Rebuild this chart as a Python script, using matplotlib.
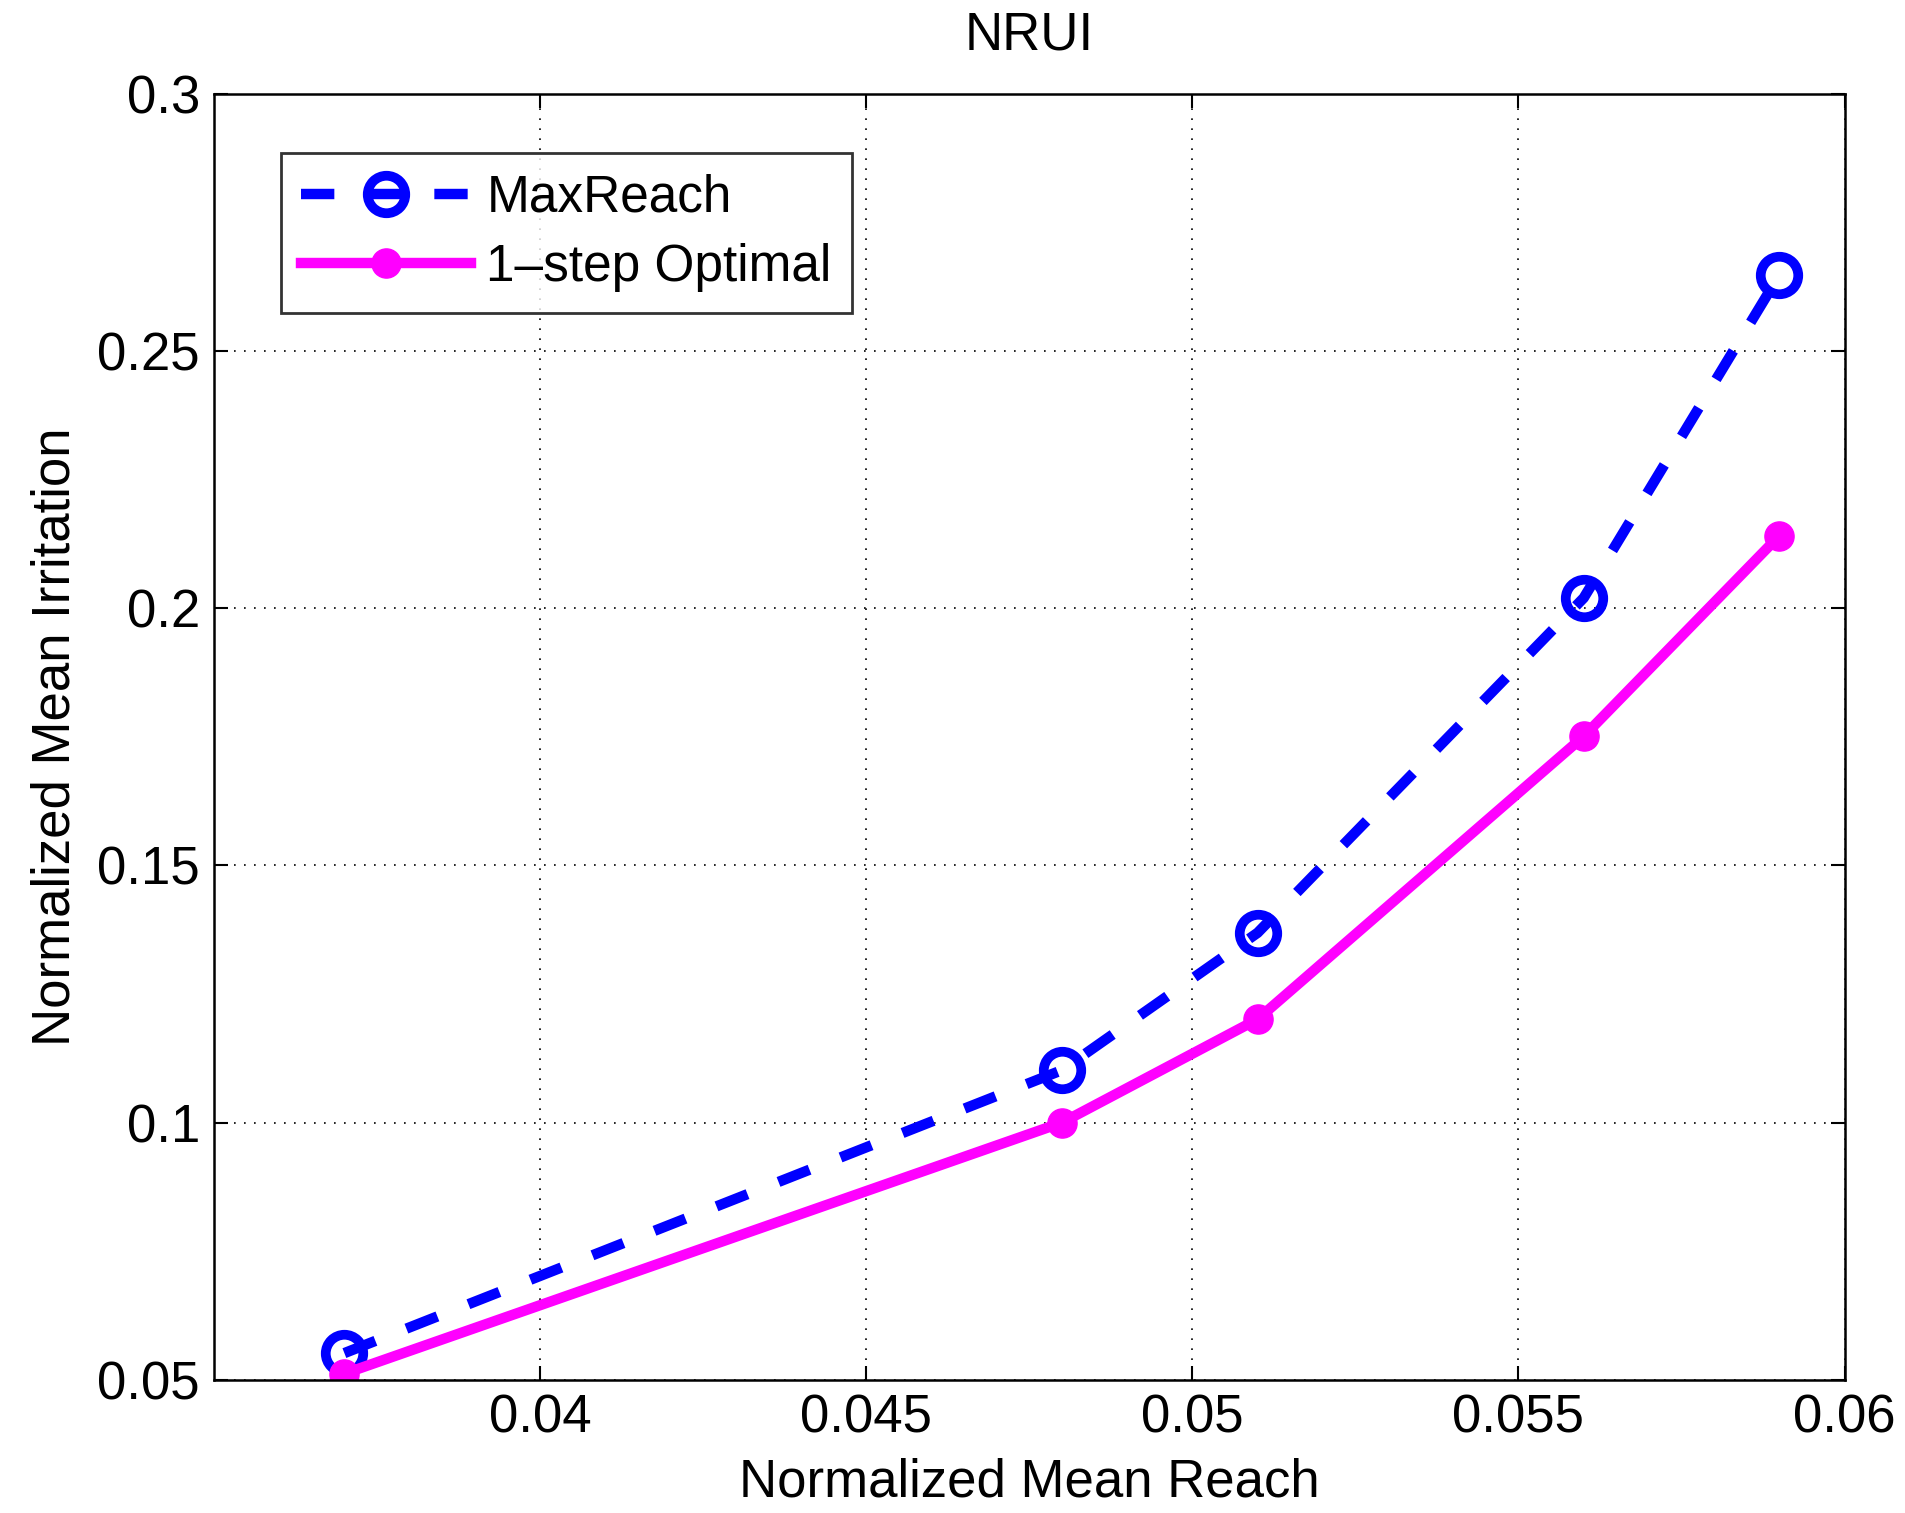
import matplotlib
matplotlib.use("Agg")
import matplotlib.pyplot as plt

plt.rcParams['font.family'] = ['Liberation Sans', 'DejaVu Sans']

# data
reach = [0.037, 0.048, 0.051, 0.056, 0.059]
maxreach = [0.0552, 0.1102, 0.1369, 0.2020, 0.2648]
onestep = [0.0512, 0.1000, 0.1201, 0.1751, 0.2141]

xticks = [0.04, 0.045, 0.05, 0.055, 0.06]
yticks = [0.05, 0.1, 0.15, 0.2, 0.25, 0.3]

fs = 38

fig = plt.figure(figsize=(19.05, 15.13), dpi=100)
ax = fig.add_axes([0.1123, 0.088, 0.856, 0.85])

ax.plot(reach, maxreach, color='blue', lw=7.5, ls=(0, (3.2, 3.2)),
        marker='o', ms=27, mfc='none', mew=7, label='MaxReach')
ax.plot(reach, onestep, color='magenta', lw=7.5, ls='-',
        marker='o', ms=21, mfc='magenta', label='1\u2013step Optimal')

ax.set_xlim(0.035, 0.06)
ax.set_ylim(0.05, 0.3)
ax.set_xticks(xticks)
ax.set_xticklabels(['0.04', '0.045', '0.05', '0.055', '0.06'])
ax.set_yticks(yticks)
ax.set_yticklabels(['0.05', '0.1', '0.15', '0.2', '0.25', '0.3'])

ax.grid(True, color='black', ls=(0, (1, 5)), lw=1.2)
ax.tick_params(direction='in', length=10, width=1.5, labelsize=fs,
               top=True, right=True, pad=10)
for s in ax.spines.values():
    s.set_linewidth(1.8)

ax.set_xlabel('Normalized Mean Reach', fontsize=fs, labelpad=10)
ax.set_ylabel('Normalized Mean Irritation', fontsize=fs, labelpad=12)
ax.set_title('NRUI', fontsize=fs, pad=32)

leg = ax.legend(loc='upper left', bbox_to_anchor=(0.041, 0.954), fontsize=37,
                frameon=True, fancybox=False, edgecolor='black',
                borderaxespad=0, handlelength=3.3, borderpad=0.4,
                labelspacing=0.4, handletextpad=0.3)
leg.get_frame().set_linewidth(2)

fig.savefig('out.png', dpi=100)
